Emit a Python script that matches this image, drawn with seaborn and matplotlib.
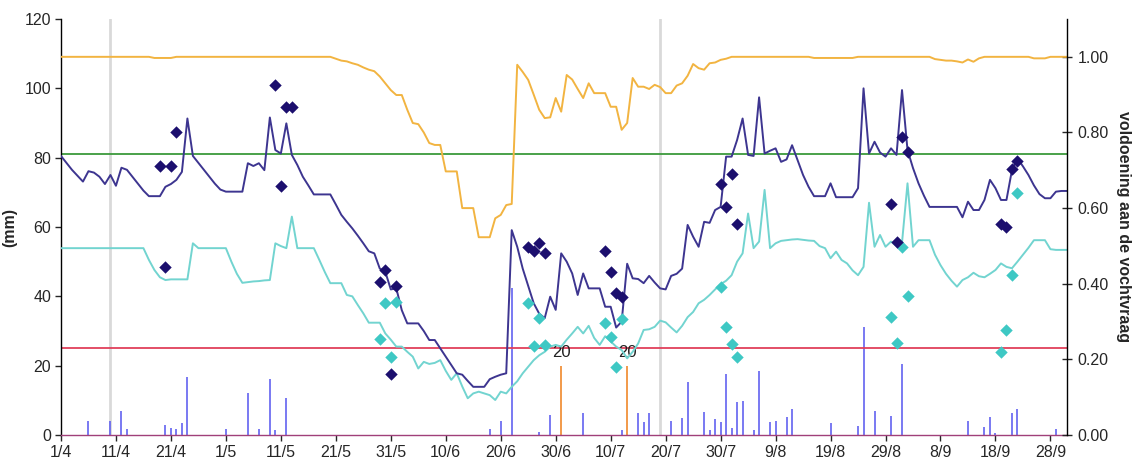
import matplotlib
matplotlib.use("Agg")
import matplotlib.pyplot as plt
import numpy as np
import pandas as pd
import seaborn as sns

sns.set_theme(style="ticks")
plt.rcParams["font.family"] = ["Liberation Sans", "DejaVu Sans"]

# ---- data -------------------------------------------------------------
season_start = pd.Timestamp("2019-04-01")

# daily model values (mm), day 0 = 1 April
vocht_laag1 = [
    80.5, 78.5, 76.5, 74.8, 73.1, 76.1, 75.7, 74.5, 72.4, 75.0,
    71.9, 77.1, 76.5, 74.5, 72.5, 70.5, 68.9, 68.9, 68.9, 71.6,
    72.4, 73.6, 75.9, 91.3, 80.5, 78.5, 76.5, 74.5, 72.5, 70.8,
    70.2, 70.2, 70.2, 70.2, 78.4, 77.6, 78.4, 76.4, 91.6, 82.2,
    81.2, 89.9, 80.8, 77.9, 74.5, 72.0, 69.4, 69.4, 69.4, 69.4,
    66.5, 63.5, 61.5, 59.6, 57.5, 55.3, 53.0, 52.4, 48.0, 47.1,
    42.0, 42.3, 36.0, 32.2, 32.2, 32.2, 30.0, 27.4, 27.4, 25.0,
    22.6, 20.2, 17.8, 17.4, 15.6, 13.9, 13.9, 13.9, 16.1, 16.8,
    17.4, 17.8, 59.1, 54.3, 48.0, 43.0, 38.0, 35.0, 33.7, 39.9,
    36.1, 52.4, 50.0, 46.6, 40.4, 46.6, 42.3, 42.3, 42.3, 37.0,
    37.0, 31.0, 32.7, 49.4, 45.2, 45.0, 43.8, 45.9, 44.0, 42.3,
    42.0, 45.9, 46.5, 48.0, 60.6, 57.2, 54.3, 61.5, 61.2, 64.9,
    65.8, 80.3, 80.3, 85.1, 91.3, 80.8, 80.5, 97.4, 81.2, 82.0,
    82.7, 78.8, 79.5, 83.6, 79.3, 75.0, 71.6, 68.9, 68.9, 68.9,
    72.6, 68.6, 68.6, 68.6, 68.6, 71.2, 100.0, 81.2, 84.6, 81.5,
    80.3, 82.7, 80.8, 99.5, 82.2, 77.0, 72.6, 69.0, 65.8, 65.8,
    65.8, 65.8, 65.8, 65.8, 62.8, 67.3, 64.9, 64.9, 67.8, 73.6,
    71.2, 67.8, 67.8, 76.4, 79.8, 77.5, 75.0, 72.0, 69.5, 68.3,
    68.3, 70.2, 70.4, 70.4,
]

vocht_laag2 = [
    53.9, 53.9, 53.9, 53.9, 53.9, 53.9, 53.9, 53.9, 53.9, 53.9,
    53.9, 53.9, 53.9, 53.9, 53.9, 53.9, 50.5, 47.6, 45.5, 44.7,
    44.9, 44.9, 44.9, 44.9, 55.3, 53.9, 53.9, 53.9, 53.9, 53.9,
    53.9, 50.0, 46.5, 43.9, 44.1, 44.3, 44.4, 44.6, 44.7, 55.3,
    54.5, 53.9, 63.0, 53.9, 53.9, 53.9, 53.9, 50.5, 47.0, 43.8,
    43.8, 43.8, 40.4, 40.0, 37.5, 35.1, 32.4, 32.4, 32.4, 29.3,
    27.5, 25.5, 25.5, 24.0, 22.6, 19.2, 21.1, 20.5, 20.8, 21.6,
    18.5, 15.9, 17.8, 14.0, 10.6, 12.0, 12.5, 12.0, 11.5, 10.1,
    12.5, 12.0, 13.9, 15.5, 17.8, 19.7, 21.6, 23.0, 24.0, 25.5,
    26.0, 25.5, 27.5, 29.3, 31.2, 29.3, 31.5, 28.0, 26.0, 28.5,
    27.0, 25.5, 24.5, 22.1, 24.0, 26.4, 30.3, 30.5, 31.2, 33.0,
    32.5, 31.0, 29.6, 31.5, 34.0, 35.5, 38.0, 39.0, 40.4, 42.0,
    43.5, 44.5, 46.1, 50.0, 52.4, 63.9, 53.9, 55.8, 70.7, 53.9,
    55.3, 56.0, 56.2, 56.4, 56.5, 56.3, 56.1, 56.0, 54.5, 53.9,
    51.0, 52.9, 50.5, 49.5, 47.5, 46.1, 48.5, 67.0, 54.3, 57.7,
    54.3, 55.8, 54.5, 55.5, 72.6, 54.3, 56.2, 56.2, 56.2, 52.0,
    49.0, 46.5, 44.5, 42.8, 44.7, 45.5, 46.8, 45.8, 45.5, 46.5,
    47.6, 49.5, 48.5, 48.1, 50.0, 52.0, 54.0, 56.2, 56.2, 56.2,
    53.6, 53.4, 53.4, 53.4,
]

# fraction of the crop water demand that is met (right axis)
voldoening = [
    1.000, 1.000, 1.000, 1.000, 1.000, 1.000, 1.000, 1.000, 1.000, 1.000,
    1.000, 1.000, 1.000, 1.000, 1.000, 1.000, 1.000, 0.997, 0.997, 0.997,
    0.997, 1.000, 1.000, 1.000, 1.000, 1.000, 1.000, 1.000, 1.000, 1.000,
    1.000, 1.000, 1.000, 1.000, 1.000, 1.000, 1.000, 1.000, 1.000, 1.000,
    1.000, 1.000, 1.000, 1.000, 1.000, 1.000, 1.000, 1.000, 1.000, 1.000,
    0.995, 0.990, 0.988, 0.983, 0.979, 0.972, 0.966, 0.962, 0.948, 0.930,
    0.912, 0.899, 0.899, 0.860, 0.825, 0.822, 0.800, 0.772, 0.767, 0.767,
    0.697, 0.697, 0.697, 0.600, 0.600, 0.600, 0.523, 0.523, 0.523, 0.573,
    0.582, 0.608, 0.611, 0.979, 0.960, 0.939, 0.900, 0.860, 0.838, 0.840,
    0.891, 0.855, 0.952, 0.940, 0.915, 0.891, 0.930, 0.904, 0.904, 0.904,
    0.868, 0.868, 0.807, 0.825, 0.944, 0.921, 0.921, 0.915, 0.926, 0.920,
    0.904, 0.904, 0.924, 0.930, 0.950, 0.981, 0.970, 0.966, 0.983, 0.985,
    0.992, 0.995, 1.000, 1.000, 1.000, 1.000, 1.000, 1.000, 1.000, 1.000,
    1.000, 1.000, 1.000, 1.000, 1.000, 1.000, 1.000, 0.997, 0.997, 0.997,
    0.997, 0.997, 0.997, 0.997, 0.997, 1.000, 1.000, 1.000, 1.000, 1.000,
    1.000, 1.000, 1.000, 1.000, 1.000, 1.000, 1.000, 1.000, 1.000, 0.994,
    0.992, 0.990, 0.990, 0.988, 0.985, 0.993, 0.987, 0.996, 1.000, 1.000,
    1.000, 1.000, 1.000, 1.000, 1.000, 1.000, 1.000, 0.996, 0.996, 0.996,
    1.000, 1.000, 1.000, 1.000,
]

# measured values (mm) per sampling day
meting1_dag = [18, 19, 20, 21, 39, 40, 41, 42, 58, 59, 60, 61, 85, 86, 87, 88,
               99, 100, 101, 102, 120, 121, 122, 123, 151, 152, 153, 154,
               171, 172, 173, 174]
meting1_mm = [77.7, 48.4, 77.7, 87.3, 100.9, 71.9, 94.7, 94.7, 44.2, 47.6, 17.5, 43.0,
              54.3, 53.2, 55.5, 52.6, 53.1, 46.9, 41.0, 39.9, 72.4, 65.9, 75.2, 60.8,
              66.6, 55.8, 86.0, 81.7, 60.9, 59.9, 76.6, 79.1]

meting2_dag = [58, 59, 60, 61, 85, 86, 87, 88, 99, 100, 101, 102, 120, 121, 122, 123,
               151, 152, 153, 154, 171, 172, 173, 174]
meting2_mm = [27.6, 38.0, 22.6, 38.5, 38.0, 25.7, 33.7, 26.0, 32.2, 28.4, 19.5, 33.4,
              42.6, 31.1, 26.2, 22.6, 34.1, 26.4, 54.1, 40.2, 24.0, 30.3, 46.1, 69.7]

# precipitation (mm)
neerslag_dag = [5, 9, 11, 12, 19, 20, 21, 22, 23, 30, 34, 36, 38, 39, 41,
                78, 80, 82, 87, 89, 95, 102, 105, 106, 107, 111, 113, 114, 117, 118,
                119, 120, 121, 122, 123, 124, 126, 127, 129, 130, 132, 133, 140, 145,
                146, 148, 151, 153, 165, 168, 169, 170, 173, 174, 181]
neerslag_mm = [4.1, 4.1, 6.9, 1.7, 2.9, 2.1, 1.7, 3.4, 16.8, 1.7, 12.0, 1.7, 16.2, 1.4, 10.6,
               1.7, 4.0, 42.3, 1.0, 5.8, 6.4, 1.4, 6.4, 3.7, 6.4, 4.1, 4.8, 15.4, 6.7, 1.4,
               4.5, 3.8, 17.6, 2.1, 9.4, 9.8, 1.4, 18.6, 3.7, 4.1, 5.3, 7.5, 3.4, 2.7,
               31.2, 7.0, 5.6, 20.4, 4.1, 2.4, 5.3, 0.7, 6.4, 7.5, 1.7]

# irrigation (mm)
beregening_dag = [91, 103]
beregening_mm = [20, 20]

# reference levels (mm) and period markers (day)
bovengrens = 81.0
ondergrens = 25.2
periode_grenzen = [9, 109]

# ---- figure -----------------------------------------------------------
dagen = np.arange(len(vocht_laag1))

fig = plt.figure(figsize=(11.46, 4.66), dpi=100)
ax = fig.add_axes([0.0532, 0.0665, 0.8778, 0.8927])
ax2 = ax.twinx()

for d in periode_grenzen:
    ax.axvline(d, color="#d9d9d9", lw=2, zorder=0.5)

ax.vlines(neerslag_dag, 0, neerslag_mm, color="#6262f0", lw=1.2, zorder=1)
ax.vlines(beregening_dag, 0, beregening_mm, color="#f29a4a", lw=1.4, zorder=1)
for d, v in zip(beregening_dag, beregening_mm):
    ax.annotate(f"{v:g}", (d, v), xytext=(0, 4), textcoords="offset points",
                ha="center", va="bottom", fontsize=12, color="#222222")

ax.axhline(bovengrens, color="#3c9a3c", lw=1.3, zorder=2)
ax.axhline(ondergrens, color="#e0405a", lw=1.3, zorder=2)

sns.lineplot(x=dagen, y=vocht_laag2, ax=ax, color="#72d4d0", linewidth=1.4, zorder=3)
sns.lineplot(x=dagen, y=vocht_laag1, ax=ax, color="#3d3590", linewidth=1.4, zorder=4)
sns.scatterplot(x=meting2_dag, y=meting2_mm, ax=ax, marker="D", s=40,
                color="#3ec8c4", linewidth=0, zorder=5)
sns.scatterplot(x=meting1_dag, y=meting1_mm, ax=ax, marker="D", s=40,
                color="#1c0f6e", linewidth=0, zorder=6)

sns.lineplot(x=dagen, y=voldoening, ax=ax2, color="#f2b441", linewidth=1.4)

# ---- axes -------------------------------------------------------------
ax.set_xlim(0, 183)
ax.set_ylim(0, 120)
ax2.set_ylim(0, 1.1)

tick_dagen = list(range(0, 181, 10))
tick_labels = [f"{t.day}/{t.month}" for t in
               (season_start + pd.Timedelta(days=d) for d in tick_dagen)]
ax.set_xticks(tick_dagen)
ax.set_xticklabels(tick_labels)
ax.set_yticks(range(0, 121, 20))
ax2.set_yticks(np.arange(0, 1.01, 0.2))
ax2.set_yticklabels([f"{v:.2f}" for v in np.arange(0, 1.01, 0.2)])

ax.set_ylabel("(mm)", fontsize=11.5, fontweight="bold", labelpad=5)
ax2.set_ylabel("voldoening aan de vochtvraag", fontsize=11.5, fontweight="bold",
               rotation=270, labelpad=16)
ax.set_xlabel("")

for a in (ax, ax2):
    a.spines["top"].set_visible(False)
    for s in a.spines.values():
        s.set_linewidth(1.0)
        s.set_color("black")
ax.spines["right"].set_visible(False)
ax2.spines["left"].set_visible(False)
ax2.spines["bottom"].set_visible(False)
ax.spines["bottom"].set_color("#a0407a")

ax.tick_params(axis="x", direction="out", length=4, width=1, labelsize=11.5, pad=3)
ax.tick_params(axis="y", direction="out", length=4, width=1, labelsize=11.5, pad=3)
ax2.tick_params(axis="y", direction="inout", length=7, width=1, labelsize=11.5, pad=4)

fig.savefig("out.png", dpi=100)
